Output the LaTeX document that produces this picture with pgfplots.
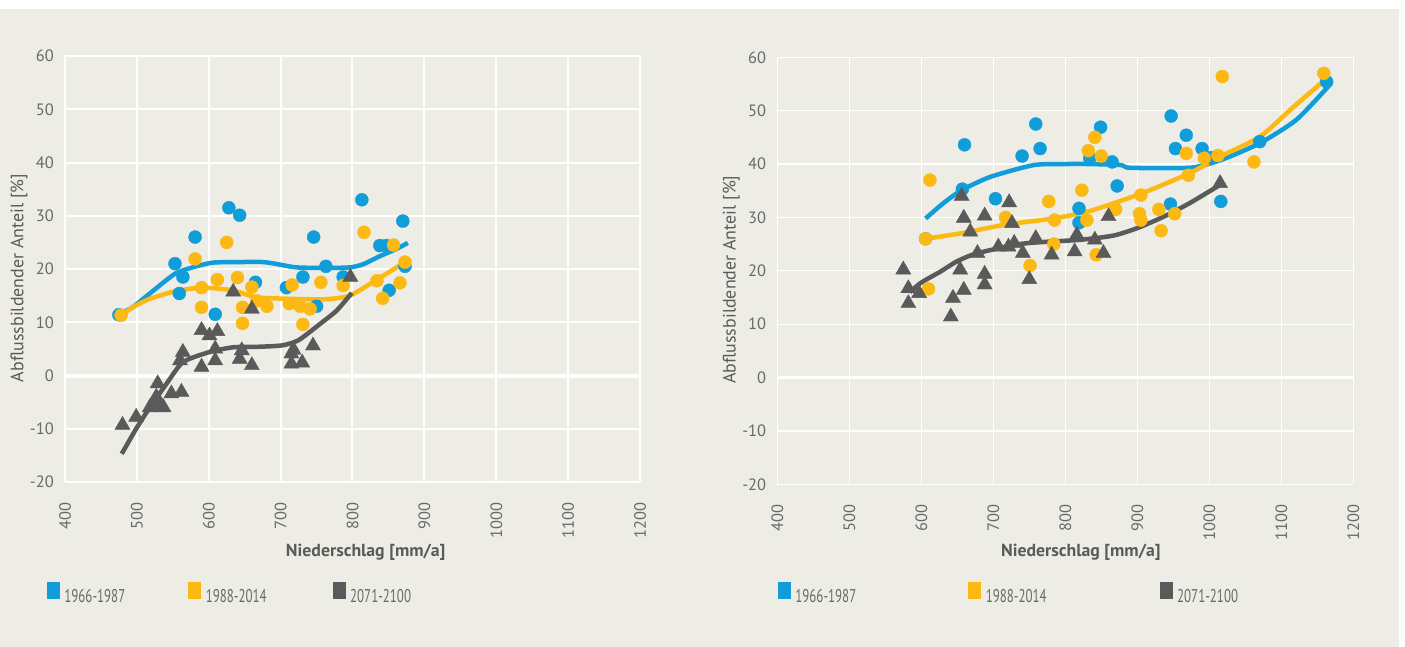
\documentclass[border=0pt]{standalone}
\usepackage{pgfplots}
\pgfplotsset{compat=1.18}
\usepackage{fontspec}
\setmainfont{PT Sans}
\newfontfamily\condfont{PT Sans}[FakeStretch=0.7]
\newfontfamily\lblfont{PT Sans}[FakeStretch=1.02]

\definecolor{panel}{RGB}{237,236,229}
\definecolor{cblue}{RGB}{16,157,217}
\definecolor{cyellow}{RGB}{253,185,19}
\definecolor{cgray}{RGB}{90,90,90}
\definecolor{txt}{RGB}{105,105,105}
\definecolor{lbl}{RGB}{90,90,90}

\pgfplotsset{
 mystyle/.style={
  scale only axis,
  xmin=400,xmax=1200,ymin=-20,ymax=60,
  xtick={400,500,...,1200}, ytick={-20,-10,...,60},
  grid=major,
  axis line style={draw=none},
  major tick length=0pt,
  /pgf/number format/assume math mode=true,
  /pgf/number format/set thousands separator={},
  tick label style={font=\fontsize{16.5}{18}\selectfont, text=txt},
  xticklabel style={rotate=90, anchor=east, inner sep=0pt},
  yticklabel style={anchor=east, inner sep=0pt},
  xticklabel shift=20bp,
  yticklabel shift=11bp,
  xlabel={Niederschlag [mm/a]},
  ylabel={Abflussbildender Anteil [\%]},
  xlabel style={font=\lblfont\bfseries\fontsize{17.5}{19}\selectfont, text=lbl, anchor=center},
  ylabel style={font=\fontsize{18}{20}\selectfont, text=lbl, anchor=center},
  extra y ticks={0}, extra y tick labels={},
  legend columns=3,
  legend cell align=left,
  legend style={draw=none, fill=none, inner sep=0pt, outer sep=0pt,
    anchor=north west, font=\condfont\fontsize{18.5}{20}\selectfont, text=txt,
    /tikz/every odd column/.append style={column sep=3bp}},
 },
 bdot/.style={only marks, mark=*, mark size=6.5bp, color=cblue, forget plot},
 ydot/.style={only marks, mark=*, mark size=6.5bp, color=cyellow, forget plot},
 gtri/.style={only marks, mark=triangle*, mark size=8.7bp, color=cgray, forget plot},
 tline/.style={line width=4.5bp, smooth, tension=0.4, forget plot},
}

\begin{document}
\begin{tikzpicture}
\fill[white] (0,0) rectangle (1405bp,647bp);
\fill[panel] (0,0) rectangle (1399bp,638bp);

% ---------------- left chart ----------------
\begin{axis}[mystyle, at={(65bp,165bp)}, anchor=south west, width=575bp, height=426bp,
  major grid style={white, line width=2bp},
  extra y tick style={major grid style={white, line width=4bp}},
  xlabel style={at={(axis description cs:0.523,-0.164)}},
  ylabel style={at={(axis description cs:-0.080,0.479)}},
  legend style={at={(axis description cs:0,0)}, xshift=-18bp, yshift=-100bp}]
\addplot[bdot] coordinates {(475,11.4)(553,21.0)(564,18.5)(559,15.4)(581,26.0)(609,11.5)(628,31.5)(643,30.1)(665,17.5)(708,16.5)(731,18.5)(746,26.0)(750,13.0)(763,20.5)(787,18.5)(813,33.0)(838,24.4)(847,24.4)(851,16.0)(870,29.0)(873,20.5)};
\addplot[tline, cblue] coordinates {(475,11.5)(494,12.8)(518,15.4)(553,19.1)(580,20.4)(606,21.2)(640,21.3)(676,21.3)(700,20.8)(722,20.3)(760,20.2)(796,20.3)(815,20.9)(838,22.4)(860,23.7)(877,24.9)};
\addplot[ydot] coordinates {(478,11.3)(581,21.9)(590,12.8)(590,16.5)(625,25.0)(612,18.0)(640,18.4)(647,12.8)(647,9.8)(660,16.6)(667,14.0)(681,13.0)(712,13.5)(716,17.0)(731,9.6)(727,13.0)(741,12.5)(756,17.5)(787,16.9)(816,26.9)(857,24.5)(834,17.8)(842,14.5)(866,17.4)(873,21.3)};
\addplot[tline, cyellow] coordinates {(478,11.3)(494,12.8)(518,14.4)(553,15.8)(590,16.5)(633,16.0)(666,14.7)(713,14.4)(760,14.3)(796,15.0)(834,18.0)(873,21.3)};
\addplot[gtri] coordinates {(480,-9.3)(499,-7.8)(518,-6.0)(523,-5.5)(527,-4.0)(529,-1.5)(533,-5.5)(537,-6.0)(548,-3.4)(562,-3.1)(560,2.8)(564,4.4)(590,1.6)(590,8.5)(601,7.5)(612,8.3)(609,5.0)(609,2.8)(634,15.7)(660,12.5)(646,4.7)(643,3.1)(660,1.9)(715,4.1)(715,2.2)(718,4.8)(730,2.4)(745,5.6)(797,18.5)};
\addplot[tline, cgray] coordinates {(479,-14.7)(499,-10.0)(518,-6.0)(541,-1.6)(564,2.5)(601,4.4)(634,5.3)(670,5.4)(699,5.6)(713,6.0)(727,6.8)(755,9.7)(778,12.2)(799,15.5)};
\addlegendimage{legend image code/.code={\fill[cblue] (0bp,-2bp) rectangle (12bp,14bp);}}
\addlegendentry{\makebox[122bp][l]{1966-1987}}
\addlegendimage{legend image code/.code={\fill[cyellow] (0bp,-2bp) rectangle (12bp,14bp);}}
\addlegendentry{\makebox[125bp][l]{1988-2014}}
\addlegendimage{legend image code/.code={\fill[cgray] (0bp,-2bp) rectangle (12bp,14bp);}}
\addlegendentry{2071-2100}
\end{axis}

% ---------------- right chart ----------------
\begin{axis}[mystyle, at={(777.3bp,162.7bp)}, anchor=south west, width=576bp, height=427bp,
  major grid style={white, line width=1.3bp},
  extra y tick style={major grid style={white, line width=3.5bp}},
  xlabel style={at={(axis description cs:0.527,-0.159)}},
  ylabel style={at={(axis description cs:-0.080,0.479)}},
  legend style={at={(axis description cs:0,0)}, xshift=0.7bp, yshift=-97.7bp}]
\addplot[bdot] coordinates {(660,43.6)(759,47.5)(765,42.9)(740,41.5)(703,33.5)(657,35.3)(606,26.0)(819,31.7)(819,29.0)(849,46.9)(834,41.1)(865,40.4)(872,35.9)(947,49.0)(968,45.4)(953,42.9)(990,42.9)(946,32.5)(1016,33.0)(1070,44.2)(1163,55.4)(1002,41.2)};
\addplot[tline, cblue] coordinates {(606,29.8)(630,32.6)(656,35.1)(696,37.6)(756,39.8)(800,40.0)(834,40.0)(878,39.8)(890,39.3)(973,39.3)(1015,40.7)(1070,43.9)(1121,48.3)(1165,54.5)};
\addplot[ydot] coordinates {(612,37.0)(610,16.6)(606,26.0)(717,30.0)(777,33.0)(785,29.5)(823,35.1)(751,21.0)(784,25.0)(841,45.0)(832,42.5)(850,41.5)(830,29.5)(870,31.5)(843,23.0)(903,30.7)(905,29.5)(930,31.5)(933,27.5)(952,30.7)(968,42.0)(993,41.1)(1012,41.6)(1018,56.4)(1062,40.4)(1159,57.0)(971,37.9)(905,34.2)};
\addplot[tline, cyellow] coordinates {(606,26.0)(654,27.0)(715,28.6)(783,29.8)(834,31.2)(906,34.5)(973,38.3)(1015,41.4)(1070,45.1)(1117,50.7)(1159,55.6)};
\addplot[gtri] coordinates {(575,20.2)(582,16.7)(582,13.9)(597,15.8)(654,20.2)(656,34.0)(659,29.9)(668,27.3)(688,30.3)(688,19.4)(688,17.4)(678,23.3)(644,14.9)(659,16.4)(641,11.4)(707,24.5)(722,32.8)(726,28.9)(721,24.5)(729,25.2)(741,23.3)(750,18.4)(759,26.1)(781,23.0)(813,23.6)(816,26.7)(860,30.2)(841,25.8)(853,23.3)(1015,36.4)};
\addplot[tline, cgray] coordinates {(584,16.0)(600,17.8)(626,19.8)(650,21.8)(678,23.3)(742,25.1)(820,25.8)(867,26.6)(900,28.0)(936,30.1)(973,32.7)(1015,36.1)};
\addlegendimage{legend image code/.code={\fill[cblue] (0bp,-2bp) rectangle (12bp,14bp);}}
\addlegendentry{\makebox[171bp][l]{1966-1987}}
\addlegendimage{legend image code/.code={\fill[cyellow] (0bp,-2bp) rectangle (12bp,14bp);}}
\addlegendentry{\makebox[172bp][l]{1988-2014}}
\addlegendimage{legend image code/.code={\fill[cgray] (0bp,-2bp) rectangle (12bp,14bp);}}
\addlegendentry{2071-2100}
\end{axis}
\end{tikzpicture}
\end{document}
